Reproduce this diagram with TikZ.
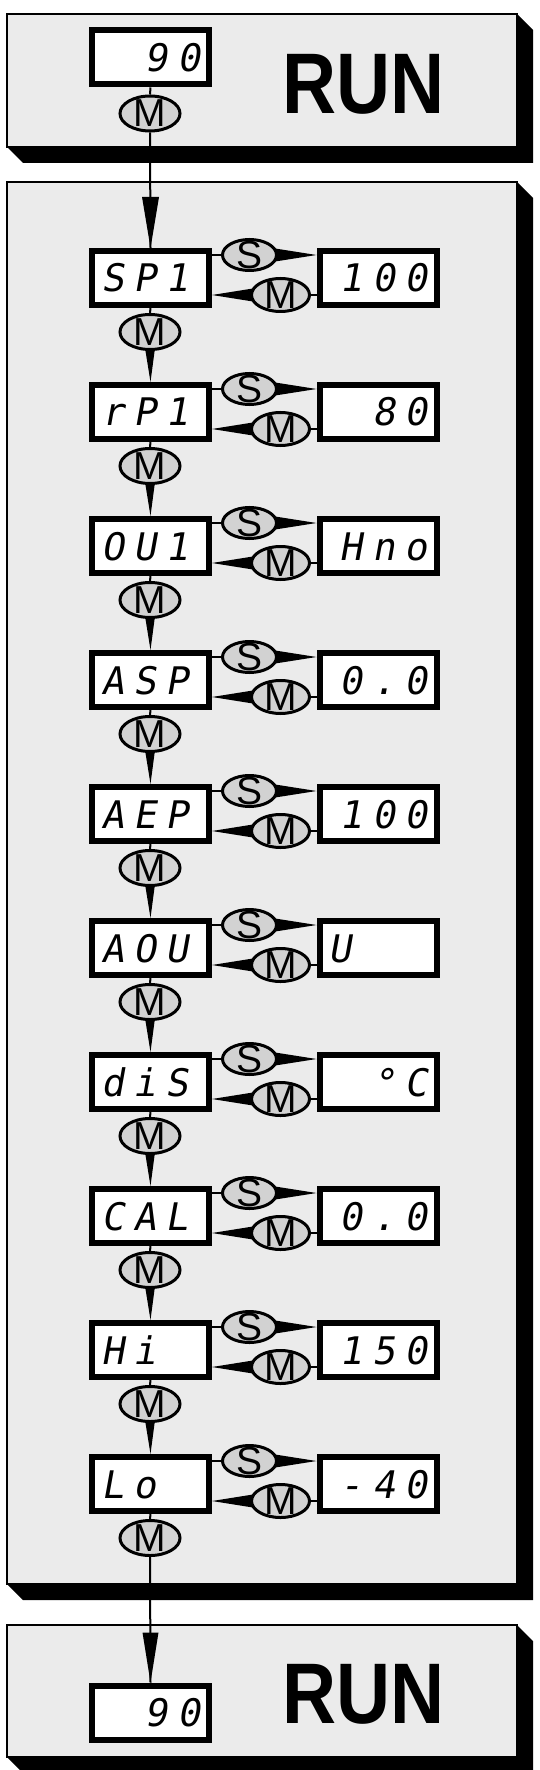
\documentclass[tikz,border=0pt]{standalone}
\usepackage{fontspec}
\setmainfont{Liberation Sans}
\newfontfamily\segfont[LetterSpace=25,FakeSlant=0.18]{DejaVu Sans Mono}
\usetikzlibrary{shapes.geometric,calc}
\pgfdeclarelayer{panel}
\pgfdeclarelayer{links}
\pgfsetlayers{panel,links,main}
\definecolor{panelgray}{HTML}{EBEBEB}
\definecolor{keygray}{HTML}{D2D2D2}
\tikzset{
 disp/.style={draw, line width=3pt, fill=white, minimum width=58.5pt, minimum height=27pt,
   inner xsep=4.5pt, inner ysep=0pt, text width=49.5pt, text height=14pt, text depth=0pt,
   font=\segfont\fontsize{19}{19}\selectfont},
 dleft/.style={disp, align=left},
 dright/.style={disp, align=right},
 key/.style={ellipse, draw, line width=1.5pt, fill=keygray, inner sep=-2.5pt,
   font=\fontsize{19.5}{19.5}\selectfont},
 skey/.style={key, minimum width=27pt, minimum height=15.5pt},
 mkey/.style={key, minimum width=29pt, minimum height=16.5pt},
 vkey/.style={key, minimum width=30pt, minimum height=17.5pt},
 link/.style={line width=1pt},
 wedge/.style={fill=black},
 panelfill/.style={fill=panelgray, draw=black, line width=1.2pt},
 runlabel/.style={font=\bfseries\fontsize{43}{43}\selectfont, inner sep=0pt},
}
\newcommand\drawpanel[4]{%
  \fill[black] (#1,#4) -- (#1+16,#4+16) -- (#3+16,#4+16) -- (#3+16,#2+16) -- (#3,#2) -- (#3,#4) -- cycle;
  \draw[panelfill] (#1,#2) rectangle (#3,#4);
}
\begin{document}
\begin{tikzpicture}[x=0.5pt,y=-0.5pt]
\useasboundingbox (0,0) rectangle (540,1770);
\begin{pgfonlayer}{panel}
  \fill[white] (0,0) rectangle (540,1770);
  \drawpanel{7}{14}{517}{147}
  \drawpanel{7}{182}{517}{1584}
  \drawpanel{7}{1625}{517}{1757}
\end{pgfonlayer}

% top RUN state
\node[dright] (D0) at (150.5,57.5) {90};
\node[vkey] (M0) at (150,113.5) {M};
\node[runlabel] (RUN0) at (364,84) {\scalebox{0.87}[1]{RUN}};

% menu rows
\foreach \i/\lab/\val/\al in {1/SP1/100/dright, 2/rP1/80/dright, 3/OU1/Hno/dright,
  4/ASP/0.0/dright, 5/AEP/100/dright, 6/AOU/U/dleft, 7/diS/{°C}/dright,
  8/CAL/0.0/dright, 9/Hi/150/dright, 10/Lo/-40/dright} {
  \pgfmathsetmacro\t{248+134*(\i-1)}
  \node[dleft] (L\i) at (150.5,\t+30) {\lab};
  \node[\al] (R\i) at (378,\t+30) {\val};
  \node[skey] (S\i) at (249.5,\t+7) {S};
  \node[mkey] (K\i) at (280.5,\t+47) {M};
  \node[vkey] (V\i) at (150,\t+84) {M};
}

% bottom RUN state
\node[dright] (DB) at (150.5,1712.5) {90};
\node[runlabel] (RUN1) at (364,1694) {\scalebox{0.87}[1]{RUN}};

\begin{pgfonlayer}{links}
  \draw[link] (D0.south) -- (M0.north);
  \draw[link] (M0.south) -- (L1.north);
  \fill[wedge] ($(L1.north)+(-8.5,-51)$) -- (L1.north) -- ($(L1.north)+(8.5,-51)$) -- cycle;
  \foreach \i in {1,...,10} {
    \draw[link] (S\i.west -| L\i.east) -- (S\i.west);
    \fill[wedge] ($(S\i.east)+(-6,-7)$) -- (R\i.west |- S\i.east) -- ($(S\i.east)+(-6,7)$) -- cycle;
    \fill[wedge] ($(K\i.west)+(6,-7)$) -- (L\i.east |- K\i.west) -- ($(K\i.west)+(6,7)$) -- cycle;
    \draw[link] (K\i.east) -- (R\i.west |- K\i.east);
    \draw[link] (L\i.south) -- (V\i.north);
  }
  \foreach \i [evaluate=\i as \j using int(\i+1)] in {1,...,9} {
    \fill[wedge] ($(V\i.south)+(-5,-3)$) -- (L\j.north) -- ($(V\i.south)+(5,-3)$) -- cycle;
  }
  \draw[link] (V10.south) -- (DB.north);
  \fill[wedge] ($(DB.north)+(-8,-50)$) -- (DB.north) -- ($(DB.north)+(8,-50)$) -- cycle;
\end{pgfonlayer}
\end{tikzpicture}
\end{document}
